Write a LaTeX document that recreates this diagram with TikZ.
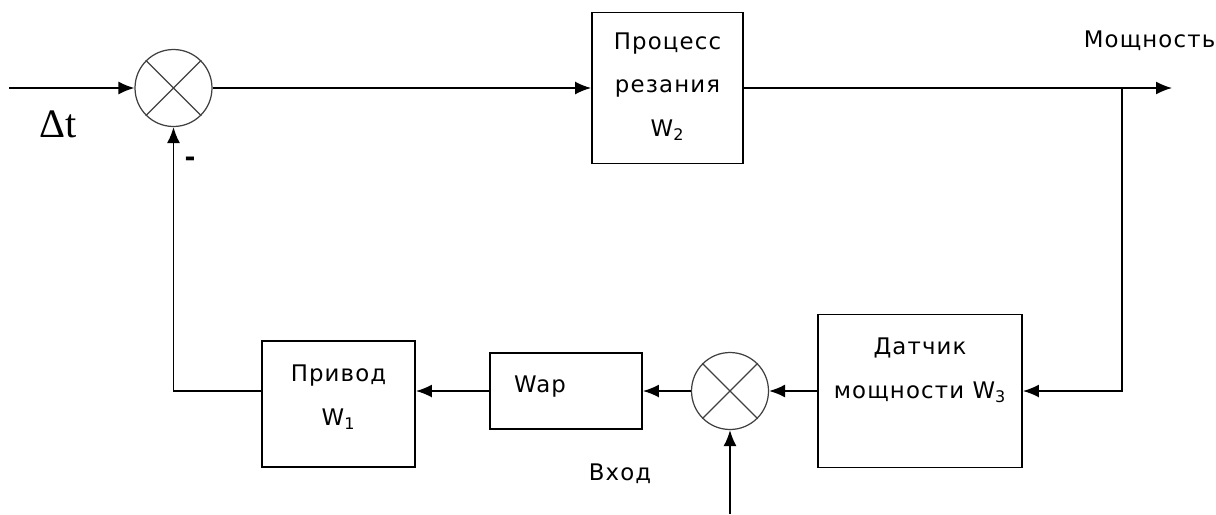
\documentclass[tikz,border=0pt]{standalone}
\usepackage{fontspec}
\usepackage{tikz}
\usetikzlibrary{arrows.meta}
\newfontfamily\diafont[LetterSpace=5]{DejaVu Sans}
\newfontfamily\deltafont{Liberation Serif}

\begin{document}
\begin{tikzpicture}[x=0.02cm,y=-0.02cm,
		>={Latex[length=3.2mm,width=2.6mm]},
		line width=0.9pt,
		block/.style={draw,line width=1.1pt,inner sep=0pt},
		summer/.style={circle,draw=black!75,line width=0.7pt,minimum size=1.54cm,inner sep=0pt},
		txt/.style={anchor=base,align=center,inner sep=0pt,font=\diafont\fontsize{13}{24.5}\selectfont}]
			\useasboundingbox (0,0) rectangle (1216,514);
			
			\node [summer] (sum1) at (173.5,88) {};
			\node [summer] (sum2) at (730,391) {};
			\foreach \s in {sum1,sum2}
				\draw [black!75,line width=0.7pt] (\s.45) -- (\s.225) (\s.135) -- (\s.315);
			
			\node [block,minimum width=3.02cm,minimum height=3.02cm] (proc) at (667.5,88) {};
			\node [block,minimum width=4.08cm,minimum height=3.06cm] (sensor) at (920,391) {};
			\node [block,minimum width=3.04cm,minimum height=1.52cm] (wap) at (566,391) {};
			\node [block,minimum width=3.06cm,minimum height=2.52cm] (drive) at (338.5,404) {};
			
			\node [txt] (proctxt) at (667.5,136) {Процесс\\резания\\W\textsubscript{2}};
			\node [txt] (sensortxt) at (920,398) {Датчик\\мощности W\textsubscript{3}};
			\node [txt] (waptxt) at (540,392) {Wap};
			\node [txt] (drivetxt) at (338.5,425) {Привод\\W\textsubscript{1}};
			\node [txt,anchor=base west] (powertxt) at (1083,47) {Мощность};
			\node [txt] (inputtxt) at (620,480) {Вход};
			\node [anchor=base,inner sep=0pt,font=\deltafont\fontsize{23}{23}\selectfont] (dt) at (58,137) {Δt};
			\node [inner sep=0pt,font=\diafont\bfseries\fontsize{15}{15}\selectfont] (minus) at (190,162) {-};
			
			\coordinate (in) at (9,88);
			\coordinate (out) at (1172,88);
			\coordinate (branch) at (1122,88);
			\coordinate (vin) at (730,514);
			
			\draw [->] (in) -- (sum1.west);
			\draw [->] (sum1.east) -- (proc.west);
			\draw [->] (proc.east) -- (out);
			\draw [->] (branch) |- (sensor.east);
			\draw [->] (sensor.west) -- (sum2.east);
			\draw [->] (vin) -- (sum2.south);
			\draw [->] (sum2.west) -- (wap.east);
			\draw [->] (wap.west) -- (wap.west -| drive.east);
			\draw [->] (wap.west -| drive.west) -- (sum1 |- wap.west) -- (sum1.south);
\end{tikzpicture}
\end{document}
